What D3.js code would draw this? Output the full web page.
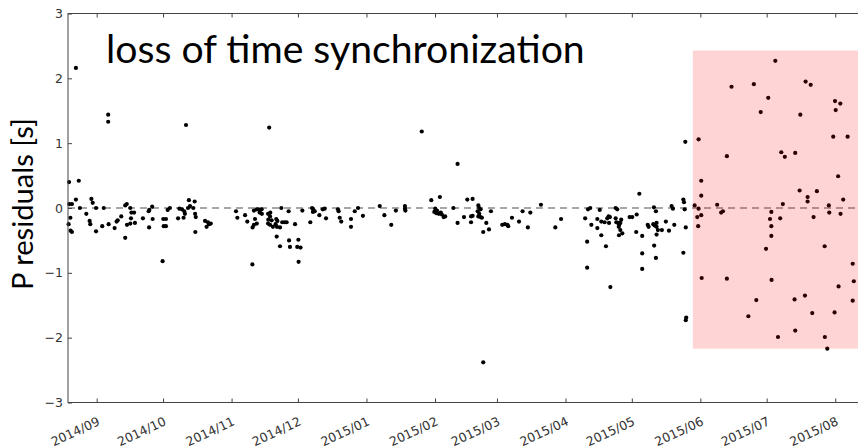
<!DOCTYPE html>
<html>
<head>
<meta charset="utf-8">
<script src="https://cdn.jsdelivr.net/npm/d3@7"></script>
<style>
  body { margin: 0; background: #fff; }
  svg { display: block; }
</style>
</head>
<body>
<svg id="chart" width="858" height="448"></svg>
<script>
// residuals, x = days since 2014-09-01, y = P residual in seconds
const syncedPoints = [
  [-12.5,0.40],[-8.1,0.42],[-9.4,2.16],[-12.4,0.06],[-11.2,0.06],[-9.4,0.13],[-7.6,0.00],[-4.7,-0.09],[-2.4,0.14],[-1.8,0.08],
  [-0.3,0.00],[3.2,0.00],[-11.9,-0.15],[-12.7,-0.25],[-11.8,-0.35],[-11.2,-0.37],[-3.2,-0.20],[-2.9,-0.25],[-0.3,-0.36],[2.5,-0.28],
  [5.4,-0.25],[8.1,-0.31],[9.0,-0.21],[9.5,-0.19],[11.1,-0.13],[12.9,0.04],[13.6,0.06],[12.9,-0.46],[13.7,-0.26],[15.2,0.00],
  [15.7,-0.07],[16.9,-0.07],[15.5,-0.16],[15.2,-0.24],[17.3,-0.23],[20.9,-0.16],[23.5,-0.05],[23.8,-0.03],[25.1,0.02],[23.7,-0.30],
  [25.3,-0.17],[29.8,-0.82],[30.1,-0.17],[31.3,-0.17],[30.3,-0.28],[31.3,-0.28],[32.1,-0.03],[33.1,0.00],[36.8,-0.16],[37.4,-0.01],
  [38.6,-0.02],[39.6,-0.05],[39.9,-0.09],[39.3,-0.15],[41.3,0.00],[42.2,0.03],[41.7,0.12],[44.3,0.10],[44.6,-0.37],[43.7,0.00],
  [5.2,1.44],[5.2,1.33],[40.4,1.28],[78.0,1.24],
  [44.5,-0.09],[44.8,-0.14],[49.0,-0.20],[50.3,-0.22],[51.6,-0.24],[49.7,-0.29],[50.8,-0.25],[63.0,-0.05],[63.6,-0.15],[67.1,-0.11],
  [68.1,-0.21],[71.1,-0.04],[72.4,-0.02],[73.1,-0.02],[73.8,-0.04],[74.6,-0.02],[73.7,-0.07],[74.7,-0.09],[71.6,-0.17],[71.1,-0.26],
  [72.4,-0.24],[70.5,-0.30],[70.4,-0.87],[77.5,-0.09],[78.4,-0.13],[78.5,-0.07],[77.6,-0.18],[79.1,-0.19],[77.5,-0.24],[78.4,-0.26],
  [79.7,-0.29],[80.9,-0.25],[81.5,-0.29],[81.2,-0.17],[81.7,-0.20],[82.9,-0.30],[83.5,0.00],[83.9,-0.22],[85.0,-0.22],[85.9,-0.22],
  [81.4,-0.44],[82.9,-0.59],[86.8,-0.05],[87.0,-0.50],[87.4,-0.60],[89.7,-0.25],[91.2,-0.49],[90.7,-0.60],[92.2,-0.61],[91.3,-0.83],
  [93.0,-0.04],[96.6,-0.22],[97.4,0.00],[97.9,-0.02],[98.6,-0.05],[97.8,-0.06],[100.7,-0.11],[102.2,-0.02],
  [103.1,-0.01],[103.7,-0.16],[109.1,-0.02],[109.4,-0.05],[109.9,-0.15],[110.6,-0.21],[115.0,-0.17],[115.0,-0.29],[116.7,-0.05],[118.2,0.00],
  [120.4,-0.12],[128.0,0.03],[130.1,-0.11],[133.2,-0.26],[135.3,-0.04],[139.4,0.03],[139.4,-0.01],[139.6,-0.04],[151.3,0.12],[155.2,0.17],
  [153.1,-0.01],[153.9,-0.04],[152.7,-0.06],[153.6,-0.08],[154.7,-0.09],[155.6,-0.07],[156.1,-0.10],[156.9,-0.14],[157.6,-0.13],[147.0,1.18],
  [163.2,0.68],
  [161.3,0.00],[163.2,-0.23],[166.1,-0.14],[167.6,0.13],[170.0,0.14],[169.3,-0.13],[170.0,-0.12],[169.3,-0.22],[172.6,0.04],[173.0,0.00],
  [172.3,-0.05],[173.6,-0.02],[173.0,-0.09],[172.6,-0.13],[173.6,-0.14],[174.2,-0.15],[176.2,-0.23],[174.8,-0.37],[177.4,-0.33],[178.3,-0.05],
  [183.4,-0.26],[184.6,-0.25],[185.7,-0.26],[186.1,-0.28],[187.8,-0.15],[191.0,-0.21],[192.6,-0.05],[195.0,-0.30],[196.1,-0.07],[200.9,0.05],
  [207.4,-0.30],[210.0,-0.17],[174.8,-2.38],
  [245.4,0.22],[222.2,-0.02],[223.2,0.00],[227.5,-0.03],[234.7,0.00],[235.4,-0.02],[252.0,0.01],[252.9,-0.05],[260.0,0.03],[260.6,-0.01],
  [265.3,0.13],[265.6,0.09],[265.9,-0.02],[220.9,-0.16],[223.7,-0.26],[226.4,-0.31],[226.4,-0.17],[228.2,-0.21],[228.2,-0.42],[229.7,-0.22],
  [230.9,-0.16],[231.5,-0.13],[232.1,-0.14],[231.7,-0.23],[234.7,-0.16],[235.0,-0.22],[235.8,-0.23],[236.3,-0.26],[236.8,-0.23],[237.2,-0.18],
  [236.1,-0.29],[236.8,-0.34],[236.2,-0.42],[237.7,-0.39],[241.0,-0.14],[242.2,-0.14],[244.2,-0.10],[244.0,-0.37],[246.7,-0.43],[221.8,-0.52],
  [230.3,-0.59],[221.8,-0.92],[232.3,-1.22],[246.7,-0.70],[246.7,-0.94],[249.2,-0.26],[249.6,-0.29],[251.7,-0.25],[252.3,-0.27],[253.2,-0.23],
  [253.2,-0.29],[253.8,-0.34],[253.2,-0.41],[255.6,-0.34],[257.4,-0.21],[258.8,-0.35],[261.2,-0.26],[266.4,-0.30],[252.1,-0.58],[252.9,-0.77],
  [265.3,-0.69],[266.4,-1.73],[266.6,-1.69],[266.2,1.02]
];

const lostSyncPoints = [
  [270.4,0.04],[272.2,1.06],[273.4,0.42],[273.4,0.19],[272.2,-0.01],[271.6,-0.14],[273.4,-0.11],[272.0,-0.28],[273.6,-1.08],[280.6,0.05],
  [282.4,-0.07],[283.2,-0.05],[285.0,0.80],[285.0,-1.09],[287.1,1.87],[294.7,-1.67],[297.2,1.91],[298.3,-1.42],[300.3,1.48],[302.7,-0.63],
  [303.7,1.70],[304.5,-0.17],[305.1,-0.06],[305.1,-0.28],[305.1,-0.43],[305.2,-1.11],[306.9,2.27],[308.1,-1.99],[309.1,-0.16],[309.6,0.86],
  [311.2,0.79],[310.3,0.06],[315.6,-1.41],[315.9,0.85],[315.9,-1.89],[317.9,0.27],[318.2,1.44],[320.3,-1.35],[320.6,1.95],[322.9,1.90],
  [321.5,0.17],[321.5,0.10],[323.6,-1.62],[324.2,-0.14],[325.7,0.26],[329.2,-0.59],[329.3,-1.99],[330.4,-2.17],[331.1,0.04],[331.3,-0.07],
  [333.1,1.10],[333.7,-1.61],[333.9,1.65],[334.2,1.51],[336.3,1.61],[335.3,0.49],[335.5,-1.21],[336.4,-0.09],[337.6,0.13],[339.6,1.10],
  [341.9,-0.86],[342.4,-1.13],[341.9,-1.43]
];

// shaded window: start day, residual range
const lossWindow = [269.6, -2.17, 2.43];
const xDomainDays = [-12.98, 346.1];
const yTicks = [-3, -2, -1, 0, 1, 2, 3];
const titleText = "loss of time synchronization";
const yLabel = "P residuals [s]";

const t0 = Date.UTC(2014, 8, 1);
const dayToDate = d => new Date(t0 + d * 864e5);

const plotLeft = 68, plotRight = 862, plotTop = 13.5, plotBottom = 402.5;

const svg = d3.select("#chart");

const x = d3.scaleUtc()
    .domain(xDomainDays.map(dayToDate))
    .range([plotLeft, plotRight]);
const y = d3.scaleLinear()
    .domain([-3, 3])
    .range([plotBottom, plotTop]);

const months = d3.utcMonths(x.domain()[0], x.domain()[1]);

// zero line
svg.append("line")
    .attr("x1", plotLeft).attr("x2", plotRight)
    .attr("y1", y(0)).attr("y2", y(0))
    .attr("stroke", "#8a8a8a")
    .attr("stroke-width", 1.6)
    .attr("stroke-dasharray", "7,5");

// points
svg.append("g").selectAll("circle")
    .data(syncedPoints.concat(lostSyncPoints))
    .join("circle")
    .attr("cx", d => x(dayToDate(d[0])))
    .attr("cy", d => y(d[1]))
    .attr("r", 2.1)
    .attr("fill", "#000");

// shaded loss-of-sync window, drawn over the points
const wx = x(dayToDate(lossWindow[0]));
svg.append("rect")
    .attr("x", wx)
    .attr("y", y(lossWindow[2]))
    .attr("width", plotRight - wx)
    .attr("height", y(lossWindow[1]) - y(lossWindow[2]))
    .attr("fill", "#ff0000")
    .attr("fill-opacity", 0.17);

// axes, ticks pointing inward
const xb = svg.append("g")
    .attr("transform", `translate(0,${plotBottom})`)
    .call(d3.axisBottom(x).tickValues(months).tickSizeInner(-4).tickSizeOuter(0).tickFormat(""));
const xt = svg.append("g")
    .attr("transform", `translate(0,${plotTop})`)
    .call(d3.axisTop(x).tickValues(months).tickSizeInner(-4).tickSizeOuter(0).tickFormat(""));
const yl = svg.append("g")
    .attr("transform", `translate(${plotLeft},0)`)
    .call(d3.axisLeft(y).tickValues(yTicks).tickSizeInner(-4).tickSizeOuter(0).tickPadding(5).tickFormat(d3.format("d")));

[xb, xt, yl].forEach(g => {
    g.select(".domain").remove();
    g.selectAll(".tick line").attr("stroke", "#444");
});
yl.selectAll(".tick text")
    .attr("font-family", "DejaVu Sans")
    .attr("font-size", 12.5)
    .attr("fill", "#333");

// rotated date labels
const fmt = d3.utcFormat("%Y/%m");
svg.append("g").selectAll("text")
    .data(months)
    .join("text")
    .attr("transform", d => `translate(${x(d) + 4},${plotBottom + 22}) rotate(-25)`)
    .attr("text-anchor", "end")
    .attr("font-family", "DejaVu Sans")
    .attr("font-size", 12.5)
    .attr("fill", "#333")
    .text(d => fmt(d));

// frame
svg.append("rect")
    .attr("x", plotLeft).attr("y", plotTop)
    .attr("width", plotRight - plotLeft).attr("height", plotBottom - plotTop)
    .attr("fill", "none")
    .attr("stroke", "#444")
    .attr("stroke-width", 1);

function fitWidth(sel, w) {
    const len = sel.node().getComputedTextLength();
    sel.attr("font-size", parseFloat(sel.attr("font-size")) * w / len);
}

const title = svg.append("text")
    .attr("x", 106).attr("y", 62.5)
    .attr("font-family", "Lato")
    .attr("font-size", 36)
    .attr("fill", "#000")
    .text(titleText);
fitWidth(title, 479);

const ylab = svg.append("text")
    .attr("transform", "translate(33,290) rotate(-90)")
    .attr("font-family", "Lato")
    .attr("font-size", 24)
    .attr("fill", "#000")
    .text(yLabel);
fitWidth(ylab, 172);
</script>
</body>
</html>
